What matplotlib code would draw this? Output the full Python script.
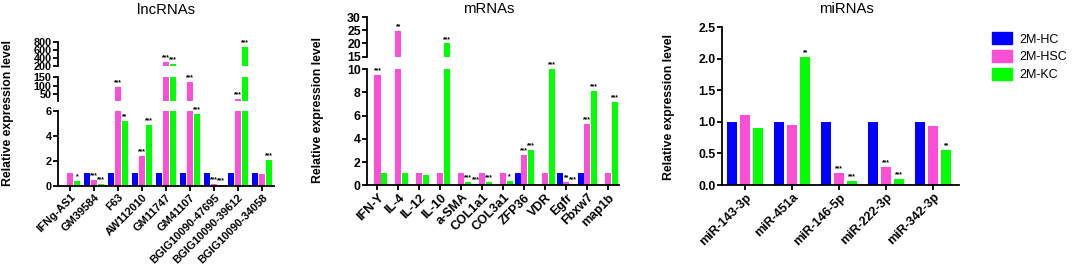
import numpy as np
import matplotlib
matplotlib.use("Agg")
import matplotlib.pyplot as plt

plt.rcParams['font.family'] = ['Liberation Sans', 'DejaVu Sans']

nan = np.nan
groups = ['2M-HC', '2M-HSC', '2M-KC']
colors = ['#0000ff', '#fb4fd8', '#00ff00']

# lncRNAs
lnc_names = ['IFNg-AS1', 'GM39584', 'F63', 'AW112010', 'GM11747', 'GM41107',
             'BGIG10090-47695', 'BGIG10090-39612', 'BGIG10090-34058']
lnc_hc = [nan, 1.05, 1.05, 1.05, 1.05, 1.05, 1.05, 1.05, 1.05]
lnc_hsc = [1.05, 0.5, 90, 2.4, 300, 122, 0.15, 20, 0.95]
lnc_kc = [0.4, 0.15, 5.2, 4.9, 260, 5.8, 0.1, 665, 2.05]
lnc_sig_hc = ['', '', '', '', '', '', '', '', '']
lnc_sig_hsc = ['', '***', '***', '***', '***', '***', '***', '***', '']
lnc_sig_kc = ['*', '***', '**', '***', '***', '***', '***', '***', '***']

# mRNAs
m_names = ['IFN-Y', 'IL-4', 'IL-12', 'IL-10', 'a-SMA', 'COL1a1', 'COL3a1',
           'ZFP36', 'VDR', 'Egfr', 'Fbxw7', 'map1b']
m_hc = [nan, nan, nan, nan, nan, 0.1, nan, 1.05, nan, 1.05, 1.05, nan]
m_hsc = [9.5, 24.9, 1.05, 1.05, 1.05, 1.05, 1.05, 2.6, 1.05, 0.25, 5.3, 1.05]
m_kc = [1.05, 1.05, 0.9, 20, 0.3, 0.3, 0.4, 3.0, 10, 0.1, 8.1, 7.2]
m_sig_hc = ['', '', '', '', '', '***', '', '', '', '', '', '']
m_sig_hsc = ['***', '**', '', '', '', '', '', '***', '', '**', '***', '']
m_sig_kc = ['', '', '', '***', '***', '***', '*', '***', '***', '***', '***', '***']

# miRNAs
mi_names = ['miR-143-3p', 'miR-451a', 'miR-146-5p', 'miR-222-3p', 'miR-342-3p']
mi_hc = [1.0, 1.0, 1.0, 1.0, 1.0]
mi_hsc = [1.1, 0.95, 0.19, 0.29, 0.94]
mi_kc = [0.9, 2.02, 0.07, 0.1, 0.56]
mi_sig_hc = ['', '', '', '', '']
mi_sig_hsc = ['', '', '***', '***', '']
mi_sig_kc = ['', '**', '***', '***', '**']

W, H = 1072, 268
fig = plt.figure(figsize=(W / 100, H / 100), dpi=100)


def px_axes(x0, x1, ytop, ybot):
    return fig.add_axes([x0 / W, 1 - ybot / H, (x1 - x0) / W, (ybot - ytop) / H])


def style(ax, bottom, ylim, yticks, xlim, yfs):
    ax.set_xlim(*xlim)
    ax.set_ylim(*ylim)
    ax.set_yticks(yticks)
    ax.set_yticklabels([str(t) if not isinstance(t, float) else f'{t:.1f}' for t in yticks],
                       fontsize=yfs, fontweight='bold')
    for s in ['top', 'right']:
        ax.spines[s].set_visible(False)
    ax.spines['left'].set_linewidth(1.3)
    ax.tick_params(axis='y', direction='out', length=3.5, width=1.3, pad=1)
    ax.patch.set_alpha(0)
    if bottom:
        ax.spines['bottom'].set_linewidth(1.3)
        ax.tick_params(axis='x', direction='out', length=3.5, width=1.3, pad=1)
    else:
        ax.spines['bottom'].set_visible(False)
        ax.set_xticks([])


def draw_bars(ax, series, sigs, width, offset, ylim, star_fs=4.8):
    n = len(series[0])
    x = np.arange(n)
    for k, (vals, sig) in enumerate(zip(series, sigs)):
        xs = x + (k - 1) * offset
        v = np.array(vals, dtype=float)
        ax.bar(xs, np.nan_to_num(v), width, color=colors[k], linewidth=0)
        for xi, vi, s in zip(xs, v, sig):
            if s and not np.isnan(vi) and ylim[0] <= vi <= ylim[1]:
                ax.annotate(s, (xi, vi), xytext=(0, 0.5), textcoords='offset points',
                            ha='center', va='bottom', fontsize=star_fs, fontweight='bold')


def xlabels(ax, names, fs):
    ax.set_xticks(np.arange(len(names)))
    ax.set_xticklabels(names, rotation=45, ha='right', rotation_mode='anchor',
                       fontsize=fs, fontweight='bold')


# ---- lncRNAs (three-part y axis)
lnc_series = [lnc_hc, lnc_hsc, lnc_kc]
lnc_sigs = [lnc_sig_hc, lnc_sig_hsc, lnc_sig_kc]
xl = (-0.5, len(lnc_names) - 0.5)
segs = [((111, 186), (0, 6), [0, 2, 4, 6], True),
        ((77.3, 100.7), (10, 150), [50, 100, 150], False),
        ((41.7, 66), (200, 800), [200, 400, 600, 800], False)]
for (yt, yb), yl, yt_, bot in segs:
    ax = px_axes(58, 274, yt, yb)
    draw_bars(ax, lnc_series, lnc_sigs, 0.28, 0.29, yl)
    style(ax, bot, yl, yt_, xl, 7.8)
    if bot:
        xlabels(ax, lnc_names, 7.9)
fig.text(8 / W, 1 - 113 / H, 'Relative expression level', rotation=90,
         ha='center', va='center', fontsize=8.8, fontweight='bold')
fig.text(166 / W, 1 - 10 / H, 'lncRNAs', ha='center', va='center', fontsize=10.7)

# ---- mRNAs (two-part y axis)
m_series = [m_hc, m_hsc, m_kc]
m_sigs = [m_sig_hc, m_sig_hsc, m_sig_kc]
xm = (-0.5, len(m_names) - 0.5 + 0.02)
for (yt, yb), yl, yt_, bot in [((69, 185.3), (0, 10), [0, 2, 4, 6, 8, 10], True),
                                ((17.5, 56.5), (15, 30), [15, 20, 25, 30], False)]:
    ax = px_axes(367, 619, yt, yb)
    draw_bars(ax, m_series, m_sigs, 0.29, 0.31, yl)
    style(ax, bot, yl, yt_, xm, 8.8)
    if bot:
        xlabels(ax, m_names, 9)
fig.text(318 / W, 1 - 110 / H, 'Relative expression level', rotation=90,
         ha='center', va='center', fontsize=8.8, fontweight='bold')
fig.text(489 / W, 1 - 9 / H, 'mRNAs', ha='center', va='center', fontsize=10.7)

# ---- miRNAs
ax = px_axes(722, 959, 27, 185)
mi_series = [mi_hc, mi_hsc, mi_kc]
mi_sigs = [mi_sig_hc, mi_sig_hsc, mi_sig_kc]
draw_bars(ax, mi_series, mi_sigs, 0.22, 0.28, (0, 2.5))
style(ax, True, (0, 2.5), [0.0, 0.5, 1.0, 1.5, 2.0, 2.5], (-0.49, len(mi_names) - 0.45), 8.8)
xlabels(ax, mi_names, 9)
fig.text(669 / W, 1 - 107 / H, 'Relative expression level', rotation=90,
         ha='center', va='center', fontsize=8.8, fontweight='bold')
fig.text(846 / W, 1 - 9 / H, 'miRNAs', ha='center', va='center', fontsize=10.7)

handles = [plt.Rectangle((0, 0), 1, 1, color=c) for c in colors]
fig.legend(handles, groups, loc='upper left', bbox_to_anchor=(981 / W, 1 - 21 / H),
           frameon=False, fontsize=9, handlelength=1.6, handleheight=1.1,
           labelspacing=0.35, handletextpad=0.6)

fig.savefig('out.png', dpi=100)
